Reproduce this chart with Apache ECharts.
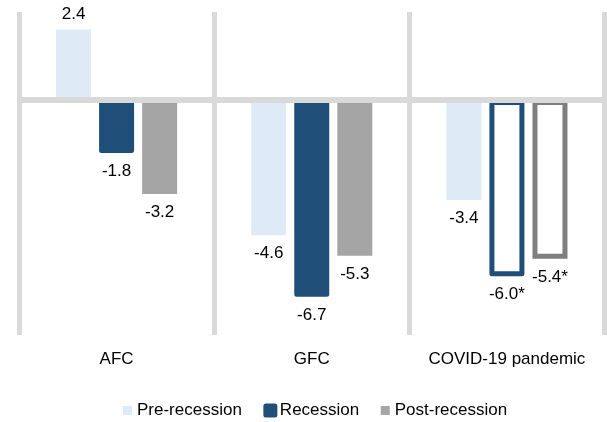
<!DOCTYPE html>
<html>
<head>
<meta charset="utf-8">
<script src="https://cdn.jsdelivr.net/npm/echarts@6/dist/echarts.min.js"></script>
<style>
  html, body { margin: 0; padding: 0; background: #fff; }
  #chart { width: 607px; height: 422px; }
</style>
</head>
<body>
<div id="chart"></div>
<script>
// Growth change around each recession episode
const categories = ['AFC', 'GFC', 'COVID-19 pandemic'];
const seriesNames = ['Pre-recession', 'Recession', 'Post-recession'];
const preRecession = [2.4, -4.6, -3.4];
const recession = [-1.8, -6.7, -6.0];
const postRecession = [-3.2, -5.3, -5.4];
// Episodes whose figures are still preliminary (outlined bars, starred labels)
const preliminary = [false, false, true];

const FONT = '"Liberation Sans", Arial, sans-serif';
const LIGHT = '#deeaf6';
const DARK = '#1f4e79';
const GREY = '#a5a5a5';
const GREY_EDGE = '#7f7f7f';
const RULE = '#d9d9d9';

function labelFor(v, i, mark) {
  return v.toFixed(1) + (mark && preliminary[i] ? '*' : '');
}

function buildData(values, opts) {
  return values.map((v, i) => {
    const item = { value: v, label: { position: v >= 0 ? 'top' : 'bottom', distance: v >= 0 ? 7 : 10 } };
    if (opts.hollow && preliminary[i]) {
      item.itemStyle = { color: '#ffffff', borderColor: opts.edge, borderWidth: 5 };
    }
    return item;
  });
}

function makeSeries(name, values, style, opts) {
  return {
    name: name,
    type: 'bar',
    barWidth: 35,
    barGap: '23%',
    itemStyle: style,
    data: buildData(values, opts),
    label: {
      show: true,
      fontFamily: FONT,
      fontSize: 17,
      color: '#000',
      formatter: p => labelFor(p.value, p.dataIndex, opts.mark)
    }
  };
}

const series = [
  makeSeries(seriesNames[0], preRecession, { color: LIGHT }, { hollow: false, mark: false }),
  makeSeries(seriesNames[1], recession, { color: DARK, borderColor: DARK, borderWidth: 5, borderJoin: 'round' }, { hollow: true, edge: DARK, mark: true }),
  makeSeries(seriesNames[2], postRecession, { color: GREY }, { hollow: true, edge: GREY_EDGE, mark: true })
];
// zero baseline, drawn over the bars
series[2].markLine = {
  silent: true,
  symbol: 'none',
  z: 5,
  label: { show: false },
  lineStyle: { color: RULE, width: 6, type: 'solid' },
  data: [{ yAxis: 0 }]
};

const chart = echarts.init(document.getElementById('chart'), null, { renderer: 'canvas' });
chart.setOption({
  animation: false,
  backgroundColor: '#fff',
  textStyle: { fontFamily: FONT },
  grid: { left: 19, right: 2.5, top: 12, bottom: 87 },
  legend: {
    left: 123,
    top: 402,
    padding: 0,
    itemWidth: 9,
    itemHeight: 9,
    itemGap: 21.5,
    icon: 'rect',
    textStyle: { fontFamily: FONT, fontSize: 17, color: '#000' },
    data: [
      { name: seriesNames[0] },
      { name: seriesNames[1], itemStyle: { borderColor: DARK, borderWidth: 5, borderJoin: 'round' } },
      { name: seriesNames[2] }
    ]
  },
  xAxis: {
    type: 'category',
    data: categories,
    axisLine: { show: false },
    axisTick: { show: false },
    axisLabel: { interval: 0, fontFamily: FONT, fontSize: 17, color: '#000', margin: 16 },
    splitLine: { show: true, interval: 0, lineStyle: { color: RULE, width: 5 } }
  },
  yAxis: {
    type: 'value',
    min: -8,
    max: 3,
    show: false
  },
  series: series
});
</script>
</body>
</html>
